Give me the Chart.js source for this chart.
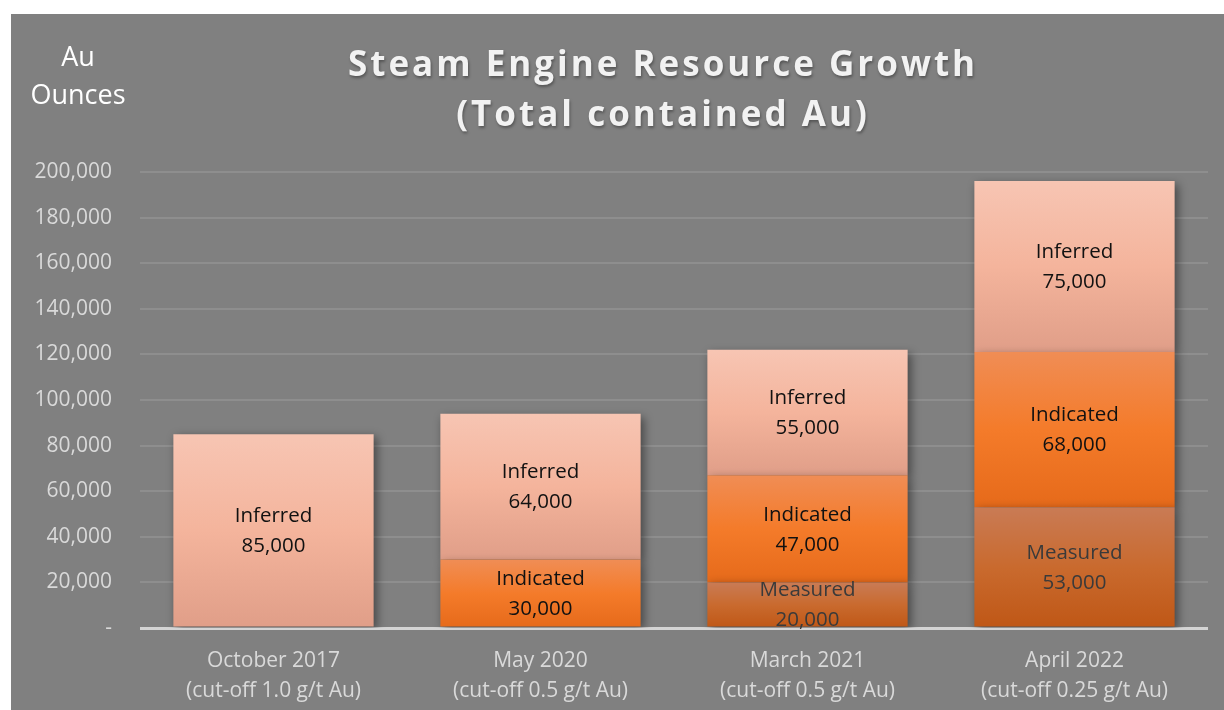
<!doctype html>
<html lang="en">

<head>
    <meta charset="utf-8">
    <title>Steam Engine Resource Growth</title>
    <script src="https://cdn.jsdelivr.net/npm/chart.js"></script>
    <style>
        body { margin: 0; background: #fff; }
        .panel { position: absolute; left: 11px; top: 14px; width: 1213px; height: 696px; background: #808080; }
        canvas { display: block; }
    </style>
</head>

<body>
    <div class="panel">
        <canvas id="myChart" width="1213" height="696"></canvas>
    </div>

    <script>
        // data
        const labels = [
            ['October 2017', '(cut-off 1.0 g/t Au)'],
            ['May 2020', '(cut-off 0.5 g/t Au)'],
            ['March 2021', '(cut-off 0.5 g/t Au)'],
            ['April 2022', '(cut-off 0.25 g/t Au)']
        ];
        const measured = [null, null, 20000, 53000];
        const indicated = [null, 30000, 47000, 68000];
        const inferred = [85000, 64000, 55000, 75000];
        const yTicks = [0, 20000, 40000, 60000, 80000, 100000, 120000, 140000, 160000, 180000, 200000];

        const stacks = [measured, indicated, inferred];
        const stops = [
            ['#C97B55', '#C96A2E', '#BF5716'],   // measured
            ['#F08D55', '#F47B2A', '#E66A1A'],   // indicated
            ['#F7C5B3', '#F4B49C', '#E09E88']    // inferred
        ];

        function segFill(ctx) {
            const chart = ctx.chart;
            const y = chart.scales.y;
            if (!y || !chart.chartArea || ctx.type !== 'data') return stops[ctx.datasetIndex][1];
            let base = 0;
            for (let k = 0; k < ctx.datasetIndex; k++) base += stacks[k][ctx.dataIndex] || 0;
            const v = stacks[ctx.datasetIndex][ctx.dataIndex] || 0;
            const top = y.getPixelForValue(base + v);
            const bot = y.getPixelForValue(base);
            if (!isFinite(top) || top === bot) return stops[ctx.datasetIndex][1];
            const g = chart.ctx.createLinearGradient(0, top, 0, bot);
            const s = stops[ctx.datasetIndex];
            g.addColorStop(0, s[0]);
            g.addColorStop(0.5, s[1]);
            g.addColorStop(1, s[2]);
            return g;
        }

        const names = ['Measured', 'Indicated', 'Inferred'];
        const data = {
            labels: labels,
            datasets: stacks.map((arr, i) => ({
                label: names[i],
                data: arr,
                backgroundColor: segFill,
                borderWidth: 0,
                barPercentage: 0.75,
                categoryPercentage: 1
            }))
        };

        const shadowPlugin = {
            id: 'shadow',
            beforeDatasetsDraw(chart) {
                const c = chart.ctx;
                c.save();
                c.shadowColor = 'rgba(0,0,0,0.45)';
                c.shadowBlur = 9;
                c.shadowOffsetX = 3;
                c.shadowOffsetY = 3;
            },
            afterDatasetsDraw(chart) {
                chart.ctx.restore();
            }
        };

        const labelPlugin = {
            id: 'segLabels',
            afterDatasetsDraw(chart) {
                const c = chart.ctx;
                c.save();
                c.font = '20.5px "Open Sans"';
                c.textAlign = 'center';
                c.textBaseline = 'middle';
                chart.data.datasets.forEach((ds, i) => {
                    const meta = chart.getDatasetMeta(i);
                    meta.data.forEach((bar, j) => {
                        const v = ds.data[j];
                        if (!v) return;
                        const cy = (bar.y + bar.base) / 2;
                        c.fillStyle = i === 0 ? '#3a3a3a' : '#111';
                        c.fillText(ds.label, bar.x, cy - 14);
                        c.fillText(v.toLocaleString('en-US'), bar.x, cy + 16);
                    });
                });
                c.restore();
            }
        };

        const titlePlugin = {
            id: 'titles',
            afterDraw(chart) {
                const c = chart.ctx;
                c.save();
                c.textAlign = 'center';
                c.textBaseline = 'middle';
                c.fillStyle = '#F2F2F2';
                c.shadowColor = 'rgba(0,0,0,0.35)';
                c.shadowBlur = 3;
                c.shadowOffsetX = 1;
                c.shadowOffsetY = 2;
                c.font = 'bold 35px "Open Sans"';
                c.letterSpacing = '3px';
                c.fillText('Steam Engine Resource Growth', 652, 52);
                c.fillText('(Total contained Au)', 652, 102);
                c.restore();

                c.save();
                c.textAlign = 'center';
                c.textBaseline = 'middle';
                c.fillStyle = '#FFFFFF';
                c.font = '27px "Open Sans"';
                c.fillText('Au', 67, 44);
                c.fillText('Ounces', 67, 82);
                c.restore();
            }
        };

        const config = {
            type: 'bar',
            data,
            options: {
                responsive: false,
                animation: false,
                layout: { padding: { top: 158, right: 16, left: 0, bottom: 0 } },
                plugins: {
                    legend: { display: false },
                    tooltip: { enabled: false }
                },
                scales: {
                    x: {
                        stacked: true,
                        grid: { display: false },
                        border: { display: false },
                        ticks: {
                            color: '#D9D9D9',
                            font: { family: 'Open Sans', size: 21, lineHeight: 1.43 },
                            padding: 10,
                            maxRotation: 0
                        },
                        afterFit(s) { s.height = 82; }
                    },
                    y: {
                        stacked: true,
                        min: 0,
                        max: 200000,
                        afterBuildTicks(s) { s.ticks = yTicks.map(v => ({ value: v })); },
                        afterFit(s) { s.width = 129; },
                        border: { display: false },
                        grid: {
                            drawTicks: false,
                            color: (ctx) => ctx.tick && ctx.tick.value === 0 ? '#D4D4D4' : '#8E8E8E',
                            lineWidth: (ctx) => ctx.tick && ctx.tick.value === 0 ? 3 : 2
                        },
                        ticks: {
                            color: '#D9D9D9',
                            font: { family: 'Open Sans', size: 21 },
                            padding: 28,
                            callback: (v) => v === 0 ? '-' : v.toLocaleString('en-US')
                        }
                    }
                }
            },
            plugins: [shadowPlugin, labelPlugin, titlePlugin]
        };

        const myChart = new Chart(document.getElementById('myChart'), config);
    </script>

</body>

</html>
